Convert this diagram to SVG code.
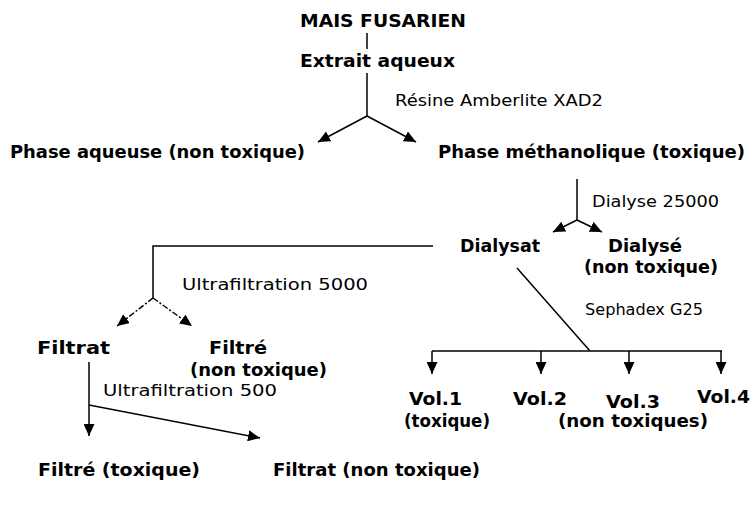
<svg xmlns="http://www.w3.org/2000/svg" width="753" height="505" viewBox="0 0 753 505">
<style>
.b{font-family:"DejaVu Sans","Liberation Sans",sans-serif;font-weight:bold;font-size:17px;fill:#000}
.r{font-family:"DejaVu Sans","Liberation Sans",sans-serif;font-size:16px;fill:#000}
.l{stroke:#000;stroke-width:1.5;fill:none}
.a{stroke:#000;stroke-width:1.5;fill:none;marker-end:url(#ah)}
.d{stroke:#000;stroke-width:1.5;fill:none;stroke-dasharray:6 2 2 2;marker-end:url(#ah)}
</style>
<defs>
<marker id="ah" markerUnits="userSpaceOnUse" markerWidth="13" markerHeight="11" refX="12" refY="5.5" orient="auto">
<path d="M0,0 L12,5.5 L0,11 z" fill="#000"/>
</marker>
</defs>
<rect width="753" height="505" fill="#fff"/>
<g id="connectors">
<path class="l" d="M367,33 V49"/>
<path class="l" d="M367,73 V116"/>
<path class="a" d="M367,116 L318,142"/>
<path class="a" d="M367,116 L416,142"/>
<path class="l" d="M577,179 V220"/>
<path class="a" d="M577,220 L553,232"/>
<path class="a" d="M577,220 L602,232"/>
<path class="l" d="M433,246 H153 V298"/>
<path class="d" d="M153,298 L117,326"/>
<path class="d" d="M153,298 L192,326"/>
<path class="l" d="M517,268 L590,351"/>
<path class="l" d="M432,351 H722"/>
<path class="a" d="M432,351 V374"/>
<path class="a" d="M541,351 V374"/>
<path class="a" d="M629,351 V374"/>
<path class="a" d="M721,351 V374"/>
<path class="a" d="M89,362 V436"/>
<path class="a" d="M89,405 L260,438"/>
</g>
<g id="labels">
<text class="r" x="395" y="106" textLength="208" lengthAdjust="spacingAndGlyphs">Résine Amberlite XAD2</text>
<text class="r" x="592" y="207" textLength="127" lengthAdjust="spacingAndGlyphs">Dialyse 25000</text>
<text class="r" x="182" y="290" textLength="186" lengthAdjust="spacingAndGlyphs">Ultrafiltration 5000</text>
<text class="r" x="585" y="315" textLength="118" lengthAdjust="spacingAndGlyphs">Sephadex G25</text>
<text class="r" x="103" y="396" textLength="174" lengthAdjust="spacingAndGlyphs">Ultrafiltration 500</text>
</g>
<g id="n-mais"><text class="b" x="300" y="27" textLength="166" lengthAdjust="spacingAndGlyphs">MAIS FUSARIEN</text></g>
<g id="n-extrait"><text class="b" x="300" y="67" textLength="155" lengthAdjust="spacingAndGlyphs">Extrait aqueux</text></g>
<g id="n-phase-aq"><text class="b" x="10" y="158" textLength="295" lengthAdjust="spacingAndGlyphs">Phase aqueuse (non toxique)</text></g>
<g id="n-phase-meth"><text class="b" x="438" y="158" textLength="307" lengthAdjust="spacingAndGlyphs">Phase méthanolique (toxique)</text></g>
<g id="n-dialysat"><text class="b" x="460" y="252" textLength="80" lengthAdjust="spacingAndGlyphs">Dialysat</text></g>
<g id="n-dialyse"><text class="b" x="608" y="252" textLength="74" lengthAdjust="spacingAndGlyphs">Dialysé</text><text class="b" x="584" y="273" textLength="134" lengthAdjust="spacingAndGlyphs">(non toxique)</text></g>
<g id="n-filtrat1"><text class="b" x="37" y="354" textLength="73" lengthAdjust="spacingAndGlyphs">Filtrat</text></g>
<g id="n-filtre1"><text class="b" x="209" y="354" textLength="58" lengthAdjust="spacingAndGlyphs">Filtré</text><text class="b" x="190" y="376" textLength="137" lengthAdjust="spacingAndGlyphs">(non toxique)</text></g>
<g id="n-filtre2"><text class="b" x="38" y="476" textLength="162" lengthAdjust="spacingAndGlyphs">Filtré (toxique)</text></g>
<g id="n-filtrat2"><text class="b" x="273" y="476" textLength="207" lengthAdjust="spacingAndGlyphs">Filtrat (non toxique)</text></g>
<g id="n-vol1"><text class="b" x="409" y="405" textLength="53" lengthAdjust="spacingAndGlyphs">Vol.1</text><text class="b" x="404" y="427" textLength="86" lengthAdjust="spacingAndGlyphs">(toxique)</text></g>
<g id="n-vol2"><text class="b" x="513" y="405" textLength="54" lengthAdjust="spacingAndGlyphs">Vol.2</text></g>
<g id="n-vol3"><text class="b" x="606" y="408" textLength="54" lengthAdjust="spacingAndGlyphs">Vol.3</text></g>
<g id="n-vol4"><text class="b" x="697" y="403" textLength="53" lengthAdjust="spacingAndGlyphs">Vol.4</text></g>
<g id="n-nontox"><text class="b" x="558" y="427" textLength="150" lengthAdjust="spacingAndGlyphs">(non toxiques)</text></g>
</svg>
